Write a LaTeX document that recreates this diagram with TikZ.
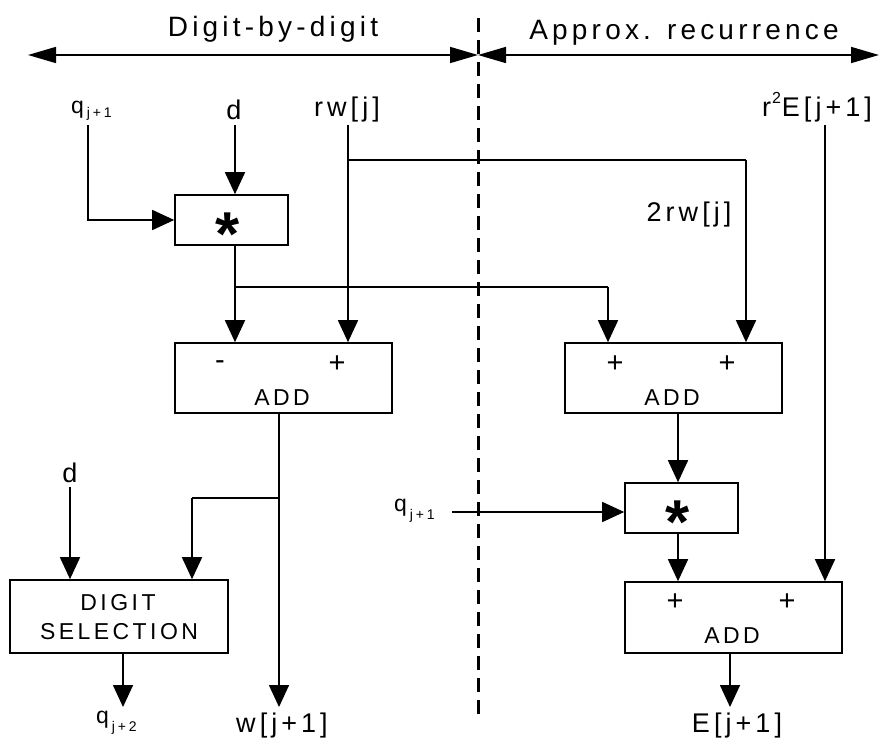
\documentclass[tikz,border=0pt]{standalone}
\usepackage{fontspec}
\setmainfont{Liberation Sans}
\newfontfamily\spaced[LetterSpace=15]{Liberation Sans}
\newfontfamily\subspaced[LetterSpace=20]{Liberation Sans}
\newfontfamily\spacedb{Liberation Sans Bold}
\usetikzlibrary{arrows.meta}
\newcommand{\qs}[2]{{\fontsize{23}{24}\selectfont q}\kern3pt\raisebox{-#1}{\fontsize{14}{15}\subspaced\selectfont #2}}
\tikzset{
  box/.style={draw, line width=1.6pt, inner sep=0pt},
  lbl/.style={font=\fontsize{27}{30}\selectfont\spaced, inner sep=0pt, anchor=base},
  qlbl/.style={font=\spaced, inner sep=0pt, anchor=base west},
  ttl/.style={font=\fontsize{28}{30}\selectfont\spaced, inner sep=0pt, anchor=base},
  btxt/.style={font=\fontsize{23}{26}\selectfont\spaced, inner sep=0pt, anchor=base},
  sgn/.style={font=\fontsize{29}{30}\selectfont, inner sep=0pt, anchor=base},
  starsym/.style={font=\fontsize{62}{62}\selectfont\spacedb, inner sep=0pt, anchor=base},
  arr/.style={line width=1.6pt, -{Triangle[length=22pt,width=20pt]}},
  conn/.style={line width=1.6pt},
  bigarr/.style={line width=1.6pt, {Triangle[length=28pt,width=16pt]}-{Triangle[length=28pt,width=16pt]}},
}
\begin{document}
\begin{tikzpicture}[x=1pt,y=-1pt]
\useasboundingbox (0,0) rectangle (880,738);
% titles
\node[ttl] (t1) at (273,37) {Digit-by-digit};
\node[ttl] (t2) at (684,40) {Approx. recurrence};
\coordinate (tl) at (28,55);
\coordinate (tm) at (478,55);
\coordinate (tr) at (879,55);
\draw[bigarr] (tl) -- (tm);
\draw[bigarr] (tm) -- (tr);
\coordinate (dtop) at (478,18);
\coordinate (dbot) at (478,718);
\draw[line width=3pt, dash pattern=on 14pt off 8pt] (dtop) -- (dbot);
% boxes
\node[box, minimum width=113pt, minimum height=50pt] (star1) at (231.5,220) {};
\node[starsym] (s1) at (228,255) {*};
\node[box, minimum width=217pt, minimum height=70pt] (add1) at (283.5,378) {};
\node[box, minimum width=217pt, minimum height=70pt] (add2) at (673.5,378) {};
\node[box, minimum width=113pt, minimum height=50pt] (star2) at (681.5,508) {};
\node[starsym] (s2) at (678,543) {*};
\node[box, minimum width=217pt, minimum height=71pt] (add3) at (733.5,617.5) {};
\node[box, minimum width=218pt, minimum height=73pt] (ds) at (119,616.5) {};
% box texts
\node[sgn] (m1) at (220,369) {-};
\node[sgn] (p1) at (337,372) {+};
\node[btxt] (a1) at (282,405) {ADD};
\node[sgn] (p2) at (615,372) {+};
\node[sgn] (p3) at (727,372) {+};
\node[btxt] (a2) at (672,405) {ADD};
\node[sgn] (p4) at (675,610) {+};
\node[sgn] (p5) at (787,610) {+};
\node[btxt] (a3) at (732,643) {ADD};
\node[btxt] (dg) at (118,610) {DIGIT};
\node[btxt] (sel) at (119,639) {SELECTION};
% labels
\node[qlbl] (q1) at (71,114) {\qs{4pt}{j+1}};
\node[lbl] (d1) at (234,120) {d};
\node[lbl] (rw) at (347,117) {rw[j]};
\node[lbl] (r2e) at (817,117) {r\kern1pt\raisebox{13pt}{\fontsize{16}{16}\selectfont 2}\kern1pt E[j+1]};
\node[lbl] (rw2) at (689,222) {2rw[j]};
\node[lbl] (d2) at (70,482) {d};
\node[qlbl] (q2) at (394,511) {\qs{8pt}{j+1}};
\node[qlbl] (q3) at (96,723) {\qs{8pt}{j+2}};
\node[lbl] (w1) at (282,732) {w[j+1]};
\node[lbl] (e1) at (737,732) {E[j+1]};
% connector start points
\coordinate (cq1) at (88,125);
\coordinate (cq1b) at (88,220);
\coordinate (cd1) at (235,125);
\coordinate (crw) at (348,125);
\coordinate (crwb) at (348,160);
\coordinate (crwc) at (746,160);
\coordinate (cre) at (825,125);
\coordinate (cs1) at (235,287);
\coordinate (cs1b) at (608,287);
\coordinate (cq2) at (452,512);
\coordinate (ca1) at (279,498);
\coordinate (ca1b) at (192,498);
\coordinate (cd2) at (70,487);
\coordinate (c2x) at (678,0);
\coordinate (ow) at (279,707);
\coordinate (oq) at (123,707);
\coordinate (oe) at (730,707);
% connectors
\draw[arr] (cq1) -- (cq1b) -- (star1.west);
\draw[arr] (cd1) -- (cd1 |- star1.north);
\draw[arr] (cd1 |- star1.south) -- (cd1 |- add1.north);
\draw[conn] (cs1) -- (cs1b);
\draw[arr] (cs1b) -- (cs1b |- add2.north);
\draw[arr] (crw) -- (crw |- add1.north);
\draw[conn] (crwb) -- (crwc);
\draw[arr] (crwc) -- (crwc |- add2.north);
\draw[arr] (cre) -- (cre |- add3.north);
\draw[arr] (c2x |- add2.south) -- (c2x |- star2.north);
\draw[arr] (cq2) -- (cq2 -| star2.west);
\draw[arr] (c2x |- star2.south) -- (c2x |- add3.north);
\draw[arr] (oe |- add3.south) -- (oe);
\draw[arr] (ow |- add1.south) -- (ow);
\draw[conn] (ca1) -- (ca1b);
\draw[arr] (ca1b) -- (ca1b |- ds.north);
\draw[arr] (cd2) -- (cd2 |- ds.north);
\draw[arr] (oq |- ds.south) -- (oq);
\end{tikzpicture}
\end{document}
